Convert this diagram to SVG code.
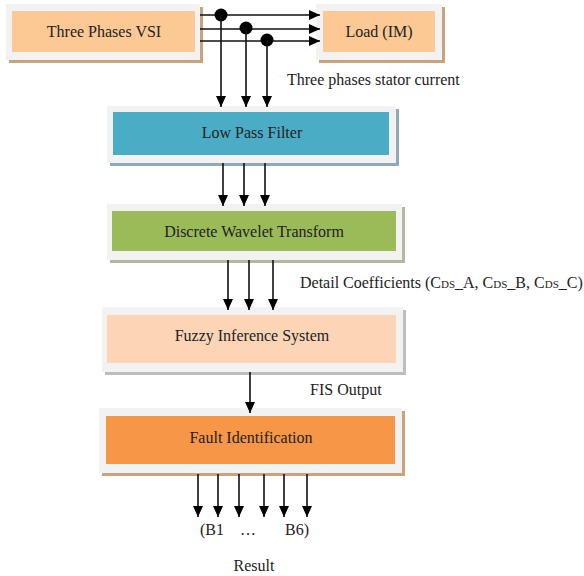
<svg xmlns="http://www.w3.org/2000/svg" width="584" height="576" viewBox="0 0 584 576">
<style>
.t{font-family:"Liberation Serif","Times New Roman",serif;font-size:16px;fill:#222}
.c{text-anchor:middle}
.frame{fill:#F2F2F2}
.ln{stroke:#111;stroke-width:1.6;fill:none}
</style>
<defs>
<marker id="ah" markerUnits="userSpaceOnUse" markerWidth="12" markerHeight="12" viewBox="0 0 12 12" refX="11" refY="6" orient="auto">
<path d="M0,1 L11,6 L0,11 Z" fill="#000"/>
</marker>
</defs>
<rect width="584" height="576" fill="#fff"/>

<g id="vsi">
<rect x="9" y="7" width="194" height="56" fill="#C9A27E"/>
<rect class="frame" x="6" y="4" width="194" height="56"/>
<rect x="12" y="11" width="183" height="41" fill="#FCC994"/>
<text class="t c" x="104" y="37">Three Phases VSI</text>
</g>
<g id="load">
<rect x="319" y="7" width="126" height="56" fill="#C9A27E"/>
<rect class="frame" x="316" y="4" width="126" height="56"/>
<rect x="323" y="11" width="112" height="41" fill="#FCC994"/>
<text class="t c" x="379" y="37">Load (IM)</text>
</g>
<g id="lpf">
<rect x="110" y="109" width="289" height="57" fill="#8FA9B6"/>
<rect class="frame" x="107" y="106" width="289" height="57"/>
<rect x="113" y="112" width="276" height="43" fill="#4BACC6"/>
<text class="t c" x="252" y="138">Low Pass Filter</text>
</g>
<g id="dwt">
<rect x="110" y="207" width="295" height="56" fill="#B3B8A0"/>
<rect class="frame" x="107" y="204" width="295" height="56"/>
<rect x="112" y="211" width="284" height="40" fill="#9BBB59"/>
<text class="t c" x="254" y="237">Discrete Wavelet Transform</text>
</g>
<g id="fis">
<rect x="105" y="310" width="301" height="65" fill="#BDBDBD"/>
<rect class="frame" x="102" y="307" width="301" height="65"/>
<rect x="107" y="315" width="289" height="48" fill="#FBD5B5"/>
<text class="t c" x="252" y="341">Fuzzy Inference System</text>
</g>
<g id="fault">
<rect x="102" y="411" width="303" height="65" fill="#C9A27E"/>
<rect class="frame" x="99" y="408" width="303" height="65"/>
<rect x="106" y="416" width="289" height="48" fill="#F79646"/>
<text class="t c" x="251" y="443">Fault Identification</text>
</g>

<g id="labels">
<text class="t" x="287" y="85">Three phases stator current</text>
<text class="t" x="300" y="288">Detail Coefficients (C<tspan font-size="11">DS</tspan>_A, C<tspan font-size="11">DS</tspan>_B, C<tspan font-size="11">DS</tspan>_C)</text>
<text class="t" x="310" y="395">FIS Output</text>
<text class="t" x="200" y="535">(B1</text>
<text class="t c" x="248" y="535">…</text>
<text class="t" x="285" y="535">B6)</text>
<text class="t c" x="254" y="571">Result</text>
</g>

<g id="connectors">
<line class="ln" x1="200" y1="15" x2="320" y2="15" marker-end="url(#ah)"/>
<line class="ln" x1="200" y1="29" x2="320" y2="29" marker-end="url(#ah)"/>
<line class="ln" x1="200" y1="41" x2="320" y2="41" marker-end="url(#ah)"/>
<circle cx="221" cy="15" r="6.5" fill="#000"/>
<circle cx="246" cy="28" r="6.5" fill="#000"/>
<circle cx="267" cy="40" r="6.5" fill="#000"/>
<line class="ln" x1="221" y1="15" x2="221" y2="107" marker-end="url(#ah)"/>
<line class="ln" x1="246" y1="28" x2="246" y2="107" marker-end="url(#ah)"/>
<line class="ln" x1="267" y1="40" x2="267" y2="107" marker-end="url(#ah)"/>
<line class="ln" x1="223" y1="163" x2="223" y2="206" marker-end="url(#ah)"/>
<line class="ln" x1="244" y1="163" x2="244" y2="206" marker-end="url(#ah)"/>
<line class="ln" x1="265" y1="163" x2="265" y2="206" marker-end="url(#ah)"/>
<line class="ln" x1="228" y1="260" x2="228" y2="310" marker-end="url(#ah)"/>
<line class="ln" x1="249" y1="260" x2="249" y2="310" marker-end="url(#ah)"/>
<line class="ln" x1="273" y1="260" x2="273" y2="310" marker-end="url(#ah)"/>
<line class="ln" x1="250" y1="372" x2="250" y2="413" marker-end="url(#ah)"/>
<line class="ln" x1="198" y1="474" x2="198" y2="517" marker-end="url(#ah)"/>
<line class="ln" x1="218" y1="474" x2="218" y2="517" marker-end="url(#ah)"/>
<line class="ln" x1="239" y1="474" x2="239" y2="517" marker-end="url(#ah)"/>
<line class="ln" x1="264" y1="474" x2="264" y2="517" marker-end="url(#ah)"/>
<line class="ln" x1="284" y1="474" x2="284" y2="517" marker-end="url(#ah)"/>
<line class="ln" x1="307" y1="474" x2="307" y2="517" marker-end="url(#ah)"/>
</g>
</svg>
